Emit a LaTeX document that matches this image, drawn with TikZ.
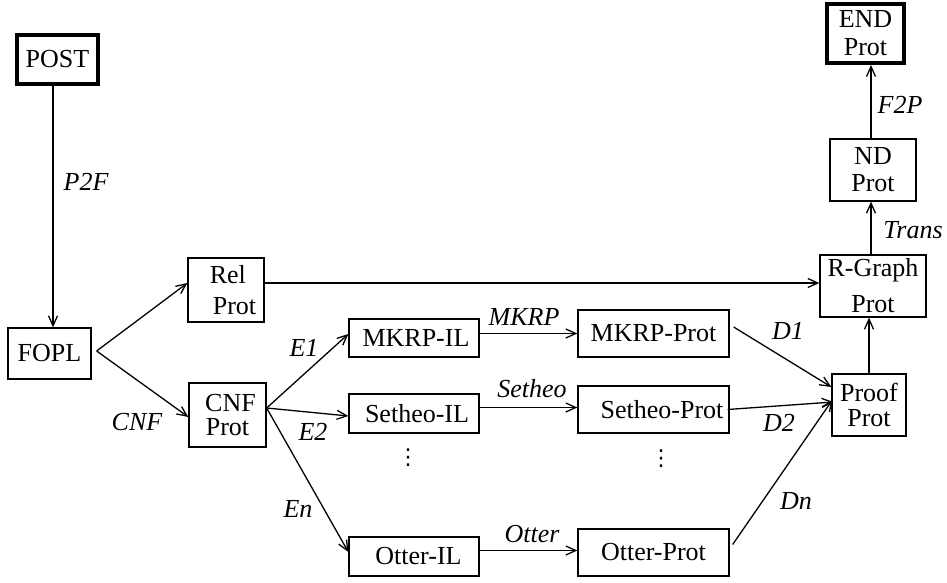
\documentclass[tikz,border=0pt]{standalone}
\usepackage{fontspec}
\setmainfont{Liberation Serif}
\newfontfamily\dejavu{DejaVu Sans}
\usetikzlibrary{arrows.meta}
\begin{document}
\begin{tikzpicture}[x=1pt,y=-1pt,
  box/.style={draw, line width=1.3pt, inner sep=0pt, font=\fontsize{26}{30}\selectfont, align=center},
  thickbox/.style={box, line width=4pt},
  lab/.style={font=\fontsize{26}{30}\selectfont\itshape, inner sep=0pt},
  vdot/.style={inner sep=0pt, font=\dejavu\fontsize{22}{26}\selectfont},
  arr/.style={line width=1.3pt, -{Straight Barb[length=10pt,width=9pt,line width=1.3pt]}},
]
\useasboundingbox (0,0) rectangle (947,583);

% boxes
\node[thickbox, minimum width=81pt, minimum height=49pt] (POST) at (57.5,59.5) {POST};
\node[box, minimum width=83pt, minimum height=51pt] (FOPL) at (49.5,353.5) {FOPL};
\node[box, minimum width=76pt, minimum height=64pt, align=left, font=\fontsize{26}{31}\selectfont] (Rel) at (226,290) {\hspace*{14pt}Rel\\\hspace*{17pt}Prot};
\node[box, minimum width=77pt, minimum height=64pt, font=\fontsize{26}{24.5}\selectfont] (CNF) at (227.5,415) {\hspace*{6pt}CNF\\Prot};
\node[box, minimum width=130pt, minimum height=38pt] (MKRPIL) at (414,338) {\hspace*{4pt}MKRP-IL};
\node[box, minimum width=130pt, minimum height=39pt] (SetheoIL) at (414,413.5) {\hspace*{6pt}Setheo-IL};
\node[box, minimum width=130pt, minimum height=39pt] (OtterIL) at (414,556.5) {\hspace*{9pt}Otter-IL};
\node[box, minimum width=151pt, minimum height=47pt] (MKRPProt) at (653.5,333.5) {MKRP-Prot};
\node[box, minimum width=151pt, minimum height=47pt] (SetheoProt) at (653.5,409.5) {\raisebox{-4pt}{\hspace*{17pt}Setheo-Prot}};
\node[box, minimum width=151pt, minimum height=47pt] (OtterProt) at (653.5,552.5) {Otter-Prot};
\node[box, minimum width=74pt, minimum height=62pt, font=\fontsize{26}{25}\selectfont] (Proof) at (869,405) {Proof\\Prot};
\node[box, minimum width=106pt, minimum height=62pt, font=\fontsize{26}{36}\selectfont] (RGraph) at (873,286) {R-Graph\\Prot};
\node[box, minimum width=86pt, minimum height=62pt, font=\fontsize{26}{27}\selectfont] (ND) at (873,170) {ND\\Prot};
\node[thickbox, minimum width=77pt, minimum height=59pt, font=\fontsize{26}{28}\selectfont] (END) at (865.5,33.5) {END\\Prot};

% vertical dots
\node[vdot] (dotsA) at (408,458) {⋮};
\node[vdot] (dotsB) at (661,459) {⋮};

% connectors
\draw[arr] ([xshift=-4.5pt]POST.south) -- ([xshift=3.5pt]FOPL.north);
\coordinate (f0) at ([xshift=5pt,yshift=2.5pt]FOPL.east);
\draw[arr] (f0) -- ([yshift=7pt]Rel.west);
\draw[arr] (f0) -- ([yshift=-2pt]CNF.west);
\coordinate (c0) at ([yshift=7pt]CNF.east);
\draw[arr] (c0) -- ([yshift=4pt]MKRPIL.west);
\draw[arr] (c0) -- ([yshift=-2.5pt]SetheoIL.west);
\draw[arr] (c0) -- ([yshift=4.5pt]OtterIL.west);
\draw[arr] (MKRPIL.east |- MKRPProt.west) -- (MKRPProt.west);
\draw[arr] ([yshift=2pt]SetheoIL.east |- SetheoProt.west) -- ([yshift=2pt]SetheoProt.west);
\draw[arr] ([yshift=2pt]OtterIL.east |- OtterProt.west) -- ([yshift=2pt]OtterProt.west);
\draw[arr] ([xshift=4pt,yshift=6.5pt]MKRPProt.east) -- ([yshift=18pt]Proof.west);
\draw[arr] ([xshift=-2pt]SetheoProt.east) -- ([xshift=2pt,yshift=3pt]Proof.west);
\draw[arr] ([xshift=3pt,yshift=8pt]OtterProt.east) -- ([xshift=1pt,yshift=5pt]Proof.west);
\draw[arr] ([yshift=7pt]Rel.east) -- ([yshift=7pt]Rel.east -| RGraph.west);
\draw[arr] (Proof.north) -- (Proof.north |- RGraph.south);
\draw[arr] ([xshift=-2pt]RGraph.north) -- ([xshift=-2pt]RGraph.north |- ND.south);
\draw[arr] ([xshift=-2pt]ND.north) -- ([xshift=-2pt]ND.north |- END.south);

% labels
\node[lab] (lP2F) at (86,182) {P2F};
\node[lab] (lCNF) at (137,422) {CNF};
\node[lab] (lE1) at (304,348) {E1};
\node[lab] (lE2) at (313,432) {E2};
\node[lab] (lEn) at (298,509) {En};
\node[lab] (lMKRP) at (524,317) {MKRP};
\node[lab] (lSetheo) at (532,389) {Setheo};
\node[lab] (lOtter) at (532,534) {Otter};
\node[lab] (lD1) at (788,331) {D1};
\node[lab] (lD2) at (779,423) {D2};
\node[lab] (lDn) at (796,501) {Dn};
\node[lab] (lTrans) at (913,230) {Trans};
\node[lab] (lF2P) at (900,105) {F2P};
\end{tikzpicture}
\end{document}
